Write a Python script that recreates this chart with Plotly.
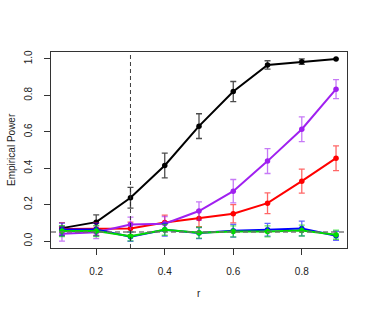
import plotly.graph_objects as go

r = [0.1, 0.2, 0.3, 0.4, 0.5, 0.6, 0.7, 0.8, 0.9]

black = [0.071, 0.104, 0.238, 0.415, 0.631, 0.821, 0.967, 0.985, 1.0]
black_err = [0.01, 0.04, 0.057, 0.068, 0.068, 0.055, 0.023, 0.015, 0.0]

red = [0.066, 0.066, 0.069, 0.102, 0.124, 0.150, 0.208, 0.329, 0.455]
red_err = [0.035, 0.035, 0.035, 0.04, 0.045, 0.05, 0.057, 0.066, 0.068]

purple = [0.040, 0.049, 0.091, 0.095, 0.165, 0.274, 0.439, 0.614, 0.834]
purple_err = [0.04, 0.035, 0.04, 0.04, 0.05, 0.064, 0.068, 0.068, 0.052]

blue = [0.064, 0.064, 0.024, 0.062, 0.044, 0.057, 0.062, 0.069, 0.029]
blue_err = [0.035, 0.035, 0.025, 0.035, 0.03, 0.035, 0.035, 0.04, 0.025]

green = [0.055, 0.055, 0.026, 0.062, 0.046, 0.053, 0.053, 0.058, 0.035]
green_err = [0.03, 0.03, 0.025, 0.03, 0.03, 0.03, 0.03, 0.03, 0.025]

x_ticks = [0.2, 0.4, 0.6, 0.8]
y_ticks = [0.0, 0.2, 0.4, 0.6, 0.8, 1.0]
alpha_level = 0.05
r_cut = 0.3

series = [
    ("black", black, black_err, "rgb(0,0,0)", "rgba(0,0,0,0.7)"),
    ("red", red, red_err, "rgb(255,0,0)", "rgba(255,0,0,0.6)"),
    ("purple", purple, purple_err, "rgb(160,32,240)", "rgba(160,32,240,0.6)"),
    ("blue", blue, blue_err, "rgb(0,0,255)", "rgba(0,0,255,0.6)"),
    ("green", green, green_err, "rgb(0,220,0)", "rgba(0,220,0,0.6)"),
]

fig = go.Figure()
for name, y, e, col, ecol in series:
    fig.add_trace(go.Scatter(
        x=r, y=y, mode="lines+markers", name=name,
        line=dict(color=col, width=2),
        marker=dict(color=col, size=5.5),
        error_y=dict(type="data", array=e, visible=True, color=ecol, thickness=1.3, width=3),
        showlegend=False,
    ))

fig.add_shape(type="line", xref="paper", x0=0, x1=1, yref="y", y0=alpha_level, y1=alpha_level,
              line=dict(color="rgba(110,110,110,0.9)", width=1.6, dash="5px,3px"))
fig.add_shape(type="line", xref="x", x0=r_cut, x1=r_cut, yref="paper", y0=0, y1=1,
              line=dict(color="rgba(40,40,40,0.9)", width=1, dash="4px,3px"))

axis_common = dict(
    showgrid=False, zeroline=False, showline=True, linecolor="#333", linewidth=1,
    mirror=True, ticks="outside", ticklen=6, tickcolor="#333", tickwidth=1,
    automargin=False,
    tickfont=dict(family="Liberation Sans", size=10, color="#222"),
)
fig.update_xaxes(range=[0.068, 0.932], tickvals=x_ticks, ticktext=[f"{v:.1f}" for v in x_ticks],
                 ticklabelstandoff=8, **axis_common)
fig.update_yaxes(range=[-0.038, 1.038], tickvals=y_ticks, ticktext=[f"{v:.1f}" for v in y_ticks],
                 tickangle=-90, ticklabelstandoff=8, **axis_common)

fig.add_annotation(text="r", xref="paper", yref="paper", x=0.5, y=0, yshift=-45, yanchor="middle",
                   showarrow=False, font=dict(family="Liberation Sans", size=10, color="#222"))
fig.add_annotation(text="Empirical Power", xref="paper", yref="paper", x=0, xshift=-40, y=0.5,
                   xanchor="center", textangle=-90, showarrow=False,
                   font=dict(family="Liberation Sans", size=10, color="#222"))

fig.update_layout(
    width=374, height=312,
    margin=dict(l=51, r=27, t=52, b=64),
    plot_bgcolor="white", paper_bgcolor="white",
)
fig.write_html("out.html", config={"displayModeBar": False},
               post_script="document.body.style.margin='0';document.body.style.overflow='hidden';")
